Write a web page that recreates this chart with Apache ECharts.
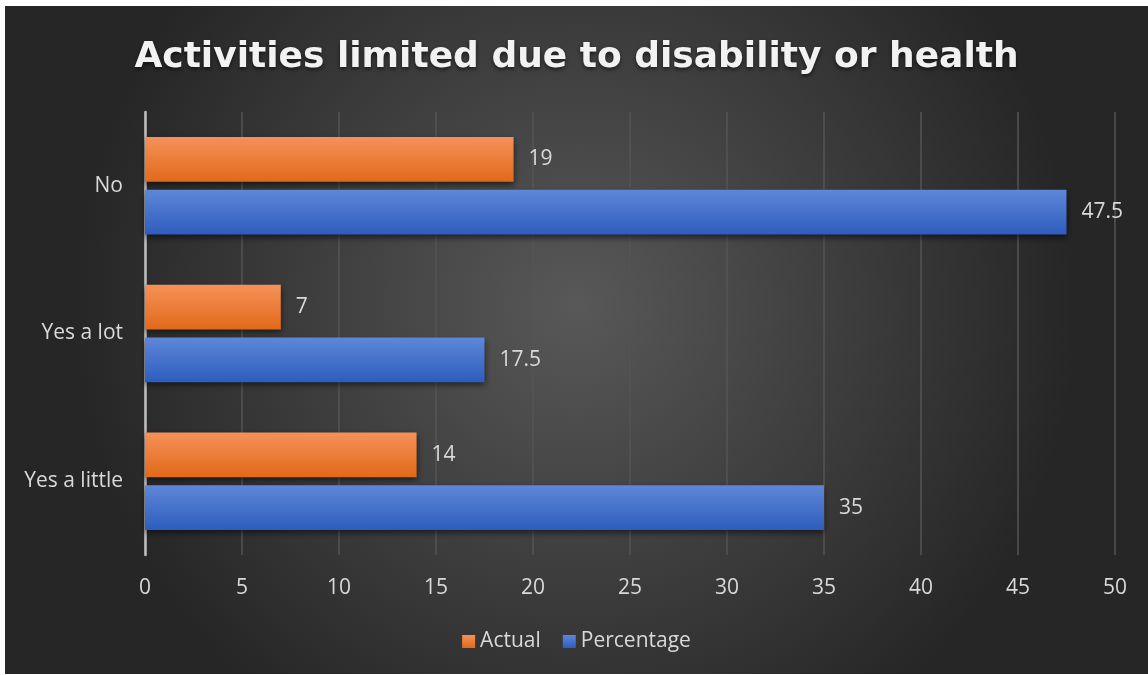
<!DOCTYPE html>
<html>
<head>
<meta charset="utf-8">
<script src="https://cdn.jsdelivr.net/npm/echarts@6/dist/echarts.min.js"></script>
<style>
	html, body { margin: 0; padding: 0; background: #fff; }
	#main { position: absolute; left: 5px; top: 6px; width: 1143px; height: 668px; }
</style>
</head>
<body>
<div id="main"></div>
<script>
var categories = ['Yes a little', 'Yes a lot', 'No'];
var actual = [14, 7, 19];
var percentage = [35, 17.5, 47.5];
var xTicks = [0, 5, 10, 15, 20, 25, 30, 35, 40, 45, 50];

var labelColor = '#d9d9d9';
var fontFam = 'Open Sans';

function barGrad(top, bottom) {
	return new echarts.graphic.LinearGradient(0, 0, 0, 1, [
		{ offset: 0, color: top },
		{ offset: 1, color: bottom }
	]);
}

var myChart = echarts.init(document.getElementById('main'));
myChart.setOption({
	backgroundColor: new echarts.graphic.RadialGradient(0.5, 0.45, 0.75, [
		{ offset: 0, color: '#585858' },
		{ offset: 1, color: '#262626' }
	]),
	title: {
		text: 'Activities limited due to disability or health',
		left: 'center',
		top: 29,
		textStyle: {
			color: '#f2f2f2',
			fontFamily: 'DejaVu Sans',
			fontWeight: 'bold',
			fontSize: 36,
			textShadowColor: 'rgba(0,0,0,0.6)',
			textShadowBlur: 4,
			textShadowOffsetY: 2
		}
	},
	legend: {
		bottom: 17,
		left: 'center',
		itemWidth: 13,
		itemHeight: 13,
		itemGap: 22,
		icon: 'rect',
		textStyle: { color: labelColor, fontSize: 21, fontFamily: fontFam },
		data: ['Actual', 'Percentage']
	},
	grid: {
		left: 140,
		right: 33,
		top: 106,
		bottom: 119,
		containLabel: false
	},
	xAxis: {
		type: 'value',
		min: 0,
		max: 50,
		interval: 5,
		axisLine: { show: false },
		axisTick: { show: false },
		axisLabel: {
			color: labelColor, fontSize: 21, fontFamily: fontFam, margin: 23,
			formatter: function (v) { return xTicks.indexOf(v) >= 0 ? String(v) : ''; }
		},
		splitLine: { lineStyle: { color: '#555555', width: 1.5 } }
	},
	yAxis: {
		type: 'category',
		data: categories,
		axisLine: { lineStyle: { color: '#bfbfbf', width: 2.5 } },
		axisTick: { show: false },
		axisLabel: { color: labelColor, fontSize: 21, fontFamily: fontFam, margin: 22 }
	},
	series: [{
		name: 'Actual',
		type: 'bar',
		data: actual,
		barGap: '18%',
		barCategoryGap: '34%',
		itemStyle: {
			color: barGrad('#f59158', '#e2691a'),
			shadowColor: 'rgba(0,0,0,0.55)',
			shadowBlur: 6,
			shadowOffsetY: 3
		},
		label: { show: true, position: 'right', distance: 15, color: labelColor, fontSize: 21, fontFamily: fontFam }
	}, {
		name: 'Percentage',
		type: 'bar',
		data: percentage,
		itemStyle: {
			color: barGrad('#5e87d8', '#2d5dbd'),
			shadowColor: 'rgba(0,0,0,0.55)',
			shadowBlur: 6,
			shadowOffsetY: 3
		},
		label: { show: true, position: 'right', distance: 15, color: labelColor, fontSize: 21, fontFamily: fontFam }
	}]
});
</script>
</body>
</html>
